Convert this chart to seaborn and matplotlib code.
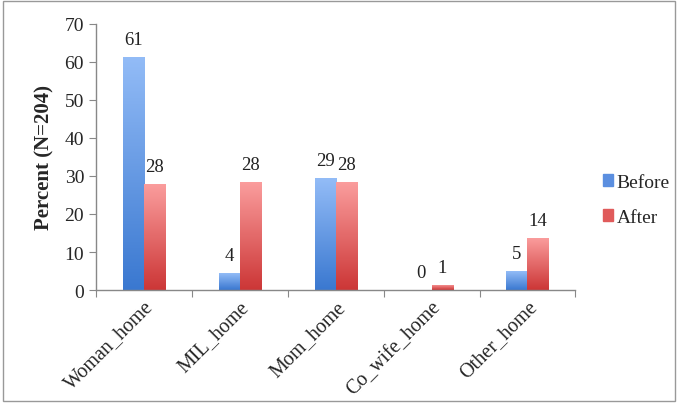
import numpy as np
import pandas as pd
import seaborn as sns
import matplotlib.pyplot as plt
from matplotlib.patches import Rectangle
from matplotlib.colors import LinearSegmentedColormap

categories = ["Woman_home", "MIL_home", "Mom_home", "Co_wife_home", "Other_home"]
before = [61.3, 4.4, 29.4, 0.0, 4.9]
after = [27.9, 28.4, 28.4, 1.4, 13.7]
series = ["Before", "After"]

df = pd.DataFrame({
    "home": categories * 2,
    "group": ["Before"] * 5 + ["After"] * 5,
    "pct": before + after,
})

sns.set_style("white")
plt.rcParams["font.family"] = ["Liberation Serif", "DejaVu Serif"]

fig = plt.figure(figsize=(6.85, 4.14), dpi=100)
ax = fig.add_axes([0.14, 0.297, 0.70, 0.643])

sns.barplot(data=df, x="home", y="pct", hue="group", hue_order=series,
            palette=["#5b8fe0", "#e05b5b"], width=0.44, ax=ax,
            legend=False, errorbar=None)

# gradient fill, light at top and dark at bottom
grads = {
    "Before": LinearSegmentedColormap.from_list("b", ["#3a78d0", "#93bcf7"]),
    "After": LinearSegmentedColormap.from_list("r", ["#cc3636", "#fb9e9e"]),
}
grad = np.linspace(0, 1, 256).reshape(-1, 1)
for cont, name in zip(ax.containers, series):
    for bar in cont:
        x0, w, h = bar.get_x(), bar.get_width(), bar.get_height()
        bar.set_facecolor("none")
        bar.set_edgecolor("none")
        if h > 0:
            im = ax.imshow(grad, cmap=grads[name], origin="lower", aspect="auto",
                           extent=[x0, x0 + w, 0, h], zorder=2)
            im.set_clip_path(bar)
        ax.text(x0 + w / 2, h + 2.4, f"{h:.0f}", ha="center", va="bottom",
                fontsize=13.5, color="#222222")

ax.set_xlim(-0.5, 4.5)
ax.set_ylim(0, 70)
ax.set_yticks(range(0, 71, 10))
ax.set_xticks(np.arange(-0.5, 5, 1), minor=False)
ax.set_xticklabels([])
ax.set_xticks(range(5), minor=True)
ax.set_xticklabels(categories, minor=True, rotation=45, ha="right",
                   rotation_mode="anchor", fontsize=14.5)
ax.tick_params(axis="x", which="minor", length=0, pad=5)
ax.tick_params(axis="x", which="major", length=5, color="#888888", direction="out")
ax.tick_params(axis="y", length=5, color="#888888", direction="out", labelsize=14)
ax.tick_params(axis="x", which="major", bottom=True)
ax.tick_params(axis="y", left=True)

ax.set_xlabel("")
ax.set_ylabel("Percent (N=204)", fontsize=15, fontweight="bold", labelpad=7)
sns.despine(ax=ax)
for s in ["left", "bottom"]:
    ax.spines[s].set_color("#888888")
    ax.spines[s].set_linewidth(1)

handles = [Rectangle((0, 0), 1, 1, color="#5b8fe0"), Rectangle((0, 0), 1, 1, color="#e05b5b")]
fig.legend(handles, series, loc="center left", bbox_to_anchor=(0.855, 0.515),
           frameon=False, fontsize=14, handlelength=0.5, handleheight=0.6,
           handletextpad=0.2, labelspacing=0.9)

fig.patches.append(Rectangle((0.004, 0.03), 0.982, 0.965, transform=fig.transFigure,
                             fill=False, edgecolor="#999999", linewidth=1))

fig.savefig("out.png", dpi=100)
